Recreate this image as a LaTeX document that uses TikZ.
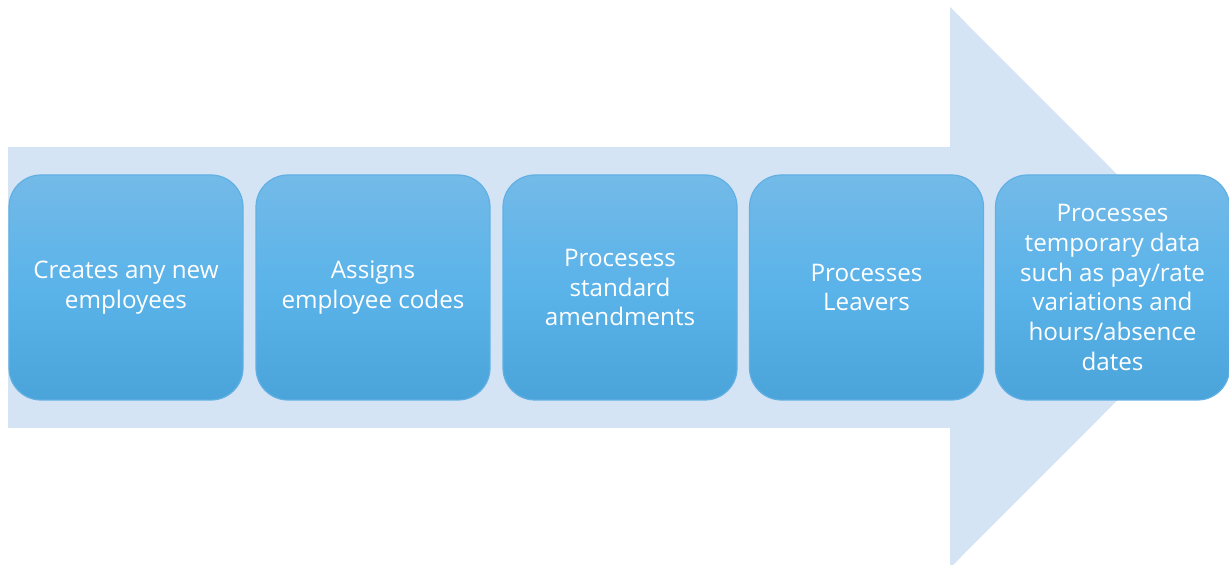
\documentclass[tikz,border=0pt]{standalone}
\usepackage{fontspec}
\setmainfont{Open Sans}
\definecolor{arrowfill}{HTML}{D4E4F4}
\definecolor{boxtop}{HTML}{73BAE8}
\definecolor{boxmid}{HTML}{5AB3E9}
\definecolor{boxbot}{HTML}{4AA4DA}
\definecolor{boxline}{HTML}{62B0E3}
\tikzset{
  stepbox/.style={draw=boxline, line width=0.6pt, rounded corners=16pt,
    top color=boxtop, bottom color=boxbot, middle color=boxmid,
    minimum width=117pt, minimum height=112.5pt, align=center,
    text=white, font=\fontsize{12.1}{14.9}\selectfont, inner sep=0pt},
}
\begin{document}
\begin{tikzpicture}[x=0.5pt,y=-0.5pt]
\useasboundingbox (0,0) rectangle (1229,565);
\clip (0,0) rectangle (1229,565);
\fill[arrowfill] (8,147) -- (950,147) -- (950,7) -- (1230,287.5) -- (950,568) -- (950,428) -- (8,428) -- cycle;
\node[stepbox] (b1) at (126,287.5) {Creates any new\\employees};
\node[stepbox] (b2) at (373,287.5) {Assigns\\employee codes};
\node[stepbox] (b3) at (620,287.5) {Procesess\\standard\\amendments};
\node[stepbox] (b4) at (866.5,287.5) {Processes\\Leavers};
\node[stepbox] (b5) at (1112.5,287.5) {Processes\\temporary data\\such as pay/rate\\variations and\\hours/absence\\dates};
\end{tikzpicture}
\end{document}
